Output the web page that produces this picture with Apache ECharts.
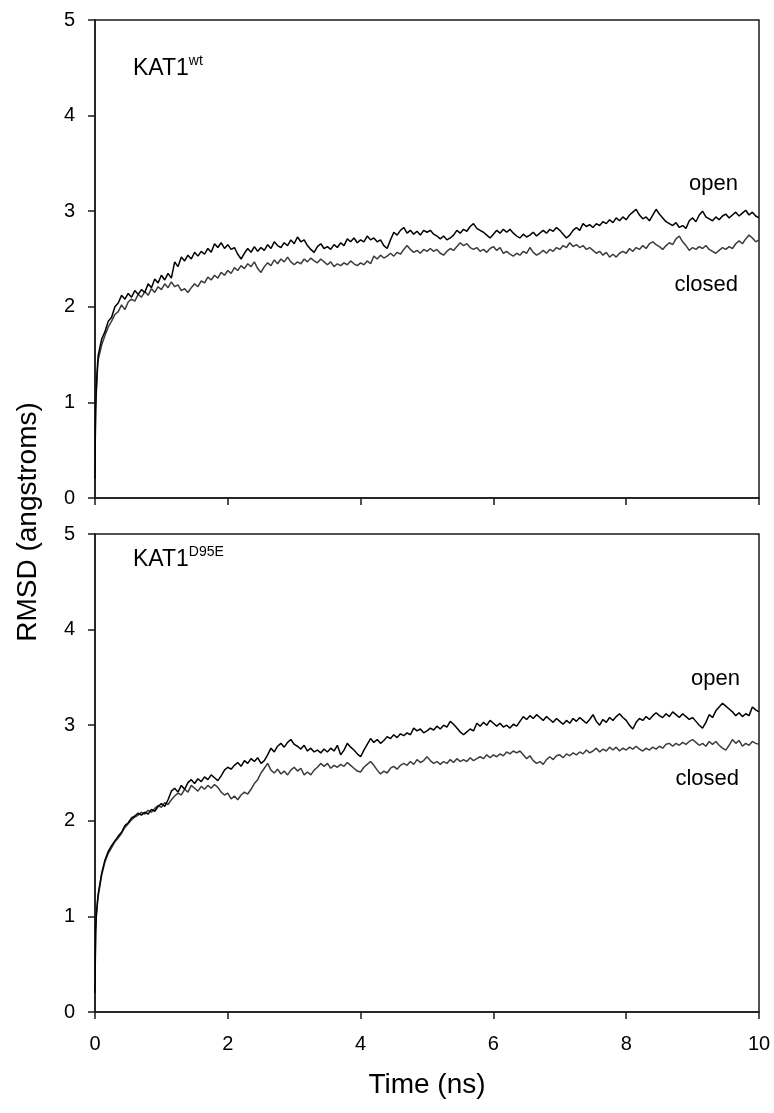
<!DOCTYPE html>
<html>
<head>
<meta charset="utf-8">
<script src="https://cdn.jsdelivr.net/npm/echarts@6/dist/echarts.min.js"></script>
<style>
html,body{margin:0;padding:0;background:#fff;}
#chart{width:774px;height:1113px;}
</style>
</head>
<body>
<div id="chart"></div>
<script>
// ---- data ----
const earlyTime = [0, 0.005, 0.01, 0.02, 0.03, 0.04];   // ns
const stepNs = 0.05;                                    // sampling after 0.04 ns
const xTicks = [0, 2, 4, 6, 8, 10];
const yTicks = [0, 1, 2, 3, 4, 5];

// KAT1 wt
const wtOpenEarly = [0.2, 0.7, 0.95, 1.15, 1.30, 1.42];
const wtOpen = [
 1.50,1.66,1.74,1.85,1.89,2.00,2.04,2.12,2.08,2.14,2.10,2.17,2.13,2.18,2.15,2.24,2.20,2.29,2.25,2.33,
 2.28,2.35,2.30,2.47,2.42,2.52,2.48,2.54,2.50,2.57,2.53,2.58,2.55,2.61,2.57,2.66,2.62,2.67,2.61,2.65,
 2.60,2.62,2.55,2.50,2.56,2.61,2.57,2.63,2.58,2.62,2.59,2.65,2.61,2.68,2.64,2.62,2.67,2.64,2.70,2.66,
 2.73,2.68,2.70,2.64,2.60,2.57,2.63,2.66,2.61,2.63,2.60,2.65,2.62,2.67,2.64,2.71,2.68,2.72,2.67,2.70,
 2.68,2.74,2.70,2.72,2.68,2.70,2.64,2.61,2.70,2.78,2.75,2.80,2.83,2.77,2.80,2.76,2.79,2.75,2.80,2.78,
 2.80,2.76,2.74,2.71,2.74,2.70,2.72,2.75,2.80,2.77,2.81,2.79,2.84,2.87,2.82,2.80,2.78,2.75,2.72,2.76,
 2.80,2.77,2.81,2.78,2.81,2.77,2.74,2.72,2.76,2.73,2.75,2.78,2.74,2.77,2.80,2.77,2.81,2.79,2.83,2.80,
 2.76,2.72,2.75,2.80,2.83,2.80,2.87,2.84,2.86,2.83,2.87,2.85,2.89,2.87,2.91,2.88,2.93,2.90,2.94,2.91,
 2.96,2.99,3.02,2.96,2.92,2.94,2.90,2.96,3.02,2.97,2.93,2.89,2.87,2.85,2.88,2.83,2.85,2.82,2.90,2.93,
 2.89,2.96,3.00,2.94,2.92,2.90,2.94,2.91,2.95,2.97,2.93,2.96,2.99,2.95,2.98,3.01,2.96,2.99,2.95,2.93
];
const wtClosedEarly = [0.2, 0.65, 0.9, 1.1, 1.25, 1.37];
const wtClosed = [
 1.45,1.60,1.70,1.79,1.85,1.92,1.95,2.02,1.97,2.05,2.08,2.06,2.13,2.10,2.16,2.12,2.19,2.15,2.21,2.18,
 2.24,2.20,2.26,2.21,2.23,2.17,2.19,2.15,2.20,2.24,2.21,2.27,2.25,2.31,2.28,2.33,2.30,2.36,2.33,2.38,
 2.35,2.41,2.38,2.43,2.40,2.45,2.42,2.47,2.40,2.36,2.42,2.46,2.43,2.49,2.45,2.50,2.47,2.52,2.47,2.44,
 2.47,2.45,2.50,2.47,2.51,2.48,2.46,2.50,2.47,2.44,2.47,2.42,2.45,2.43,2.46,2.44,2.48,2.45,2.43,2.46,
 2.44,2.48,2.45,2.53,2.50,2.54,2.51,2.53,2.56,2.53,2.57,2.55,2.60,2.64,2.60,2.57,2.59,2.56,2.60,2.58,
 2.61,2.58,2.60,2.56,2.54,2.58,2.61,2.59,2.63,2.67,2.64,2.66,2.62,2.60,2.62,2.58,2.60,2.57,2.61,2.63,
 2.59,2.62,2.56,2.58,2.55,2.53,2.56,2.54,2.58,2.56,2.62,2.57,2.54,2.56,2.59,2.56,2.60,2.58,2.62,2.60,
 2.64,2.62,2.67,2.63,2.65,2.62,2.64,2.60,2.62,2.59,2.56,2.58,2.54,2.57,2.52,2.55,2.52,2.56,2.58,2.56,
 2.61,2.58,2.62,2.60,2.64,2.61,2.66,2.68,2.65,2.63,2.60,2.64,2.67,2.65,2.71,2.74,2.68,2.64,2.59,2.62,
 2.60,2.63,2.61,2.64,2.60,2.58,2.56,2.59,2.62,2.60,2.63,2.61,2.66,2.69,2.66,2.71,2.75,2.72,2.68,2.70
];

// KAT1 D95E
const d95eOpenEarly = [0.2, 0.6, 0.85, 1.02, 1.10, 1.18];
const d95eOpen = [
 1.24,1.45,1.59,1.68,1.74,1.79,1.84,1.88,1.95,1.98,2.03,2.05,2.08,2.06,2.09,2.07,2.12,2.10,2.15,2.18,
 2.15,2.22,2.31,2.34,2.30,2.37,2.33,2.40,2.43,2.39,2.44,2.41,2.46,2.43,2.48,2.45,2.42,2.47,2.53,2.56,
 2.54,2.58,2.61,2.57,2.63,2.60,2.65,2.62,2.66,2.60,2.63,2.69,2.76,2.72,2.78,2.81,2.77,2.82,2.85,2.80,
 2.78,2.75,2.79,2.73,2.76,2.72,2.74,2.71,2.75,2.72,2.76,2.73,2.79,2.69,2.74,2.81,2.77,2.74,2.70,2.67,
 2.74,2.80,2.86,2.82,2.85,2.81,2.84,2.88,2.86,2.90,2.87,2.91,2.89,2.92,2.90,2.97,2.94,2.96,2.92,2.94,
 2.97,2.95,2.99,2.96,3.00,2.98,3.04,3.01,2.97,2.93,2.90,2.93,2.96,2.94,3.02,2.99,3.03,3.00,3.05,3.02,
 2.99,3.02,2.98,3.00,2.97,3.01,2.99,3.04,3.09,3.06,3.10,3.07,3.11,3.08,3.05,3.09,3.06,3.03,3.07,3.04,
 3.01,3.05,3.02,3.07,3.04,3.08,3.05,3.02,3.06,3.11,3.04,3.00,3.06,3.03,3.08,3.05,3.09,3.12,3.08,3.05,
 3.00,2.96,3.03,3.07,3.05,3.09,3.06,3.10,3.13,3.10,3.08,3.12,3.09,3.14,3.11,3.08,3.12,3.09,3.06,3.08,
 3.04,3.00,2.97,3.03,3.11,3.08,3.15,3.19,3.23,3.20,3.17,3.14,3.10,3.13,3.09,3.12,3.10,3.19,3.16,3.14
];
const d95eClosedEarly = [0.2, 0.55, 0.82, 1.0, 1.08, 1.16];
const d95eClosed = [
 1.22,1.43,1.57,1.66,1.72,1.78,1.82,1.87,1.93,1.97,2.01,2.04,2.06,2.09,2.07,2.11,2.09,2.13,2.16,2.14,
 2.19,2.17,2.22,2.26,2.29,2.27,2.33,2.30,2.37,2.34,2.31,2.36,2.33,2.37,2.34,2.38,2.35,2.30,2.27,2.29,
 2.23,2.26,2.22,2.27,2.30,2.28,2.33,2.39,2.43,2.50,2.55,2.60,2.53,2.50,2.54,2.49,2.52,2.48,2.53,2.56,
 2.52,2.55,2.48,2.51,2.48,2.53,2.56,2.60,2.57,2.60,2.55,2.58,2.56,2.59,2.57,2.61,2.58,2.55,2.52,2.51,
 2.56,2.59,2.62,2.58,2.53,2.49,2.52,2.50,2.55,2.57,2.54,2.58,2.60,2.58,2.62,2.59,2.64,2.61,2.63,2.67,
 2.63,2.60,2.62,2.59,2.62,2.60,2.64,2.61,2.65,2.62,2.64,2.62,2.66,2.63,2.65,2.67,2.65,2.69,2.66,2.69,
 2.67,2.70,2.68,2.72,2.70,2.73,2.71,2.73,2.69,2.65,2.68,2.63,2.60,2.62,2.59,2.64,2.67,2.64,2.68,2.69,
 2.66,2.70,2.68,2.71,2.69,2.72,2.70,2.74,2.71,2.73,2.76,2.72,2.75,2.73,2.77,2.74,2.77,2.73,2.76,2.74,
 2.77,2.75,2.78,2.75,2.73,2.76,2.74,2.77,2.75,2.78,2.76,2.80,2.81,2.78,2.81,2.79,2.82,2.80,2.83,2.85,
 2.82,2.79,2.81,2.78,2.83,2.80,2.83,2.79,2.76,2.74,2.79,2.85,2.81,2.84,2.78,2.81,2.79,2.83,2.81,2.80
];

// ---- build ----
function pairs(early, main) {
  const out = early.map((v, i) => [earlyTime[i], v]);
  main.forEach((v, i) => out.push([Math.round((i + 1) * stepNs * 100) / 100, v]));
  return out;
}

const FONT = '"Liberation Sans", Arial, sans-serif';
const AX = '#1a1a1a';

function xAxisCfg(gridIndex, showLabels) {
  return {
    type: 'value', gridIndex, min: xTicks[0], max: xTicks[xTicks.length - 1], interval: 2,
    axisLine: { show: true, onZero: false, lineStyle: { color: AX, width: 1.5 } },
    axisTick: { show: true, length: 7, lineStyle: { color: AX, width: 1.5 } },
    axisLabel: { show: showLabels, fontSize: 20, color: '#000', fontFamily: FONT, margin: 22 },
    splitLine: { show: false },
    name: showLabels ? 'Time (ns)' : '',
    nameLocation: 'middle', nameGap: 59,
    nameTextStyle: { fontSize: 28, color: '#000', fontFamily: FONT }
  };
}
function yAxisCfg(gridIndex) {
  return {
    type: 'value', gridIndex, min: yTicks[0], max: yTicks[yTicks.length - 1], interval: 1,
    axisLine: { show: true, onZero: false, lineStyle: { color: AX, width: 1.5 } },
    axisTick: { show: true, length: 7, lineStyle: { color: AX, width: 1.5 } },
    axisLabel: { fontSize: 20, color: '#000', fontFamily: FONT, margin: 20 },
    splitLine: { show: false }
  };
}
function lineSeries(name, idx, data, color) {
  return {
    name, type: 'line', xAxisIndex: idx, yAxisIndex: idx, data,
    showSymbol: false, symbol: 'none', smooth: false,
    lineStyle: { color, width: 1.5 }, z: name.indexOf('open') >= 0 ? 3 : 2
  };
}

const chart = echarts.init(document.getElementById('chart'), null, { renderer: 'canvas' });
const txt = (x, y, text, align) => ({
  type: 'text', x, y,
  style: { text, fontSize: 22, fontFamily: FONT, fill: '#000', align: align || 'left', verticalAlign: 'middle' }
});
const richLabel = (x, y, main, sup) => ({
  type: 'text', x, y,
  style: {
    text: '{a|' + main + '}{s|' + sup + '}', fontFamily: FONT, fill: '#000',
    rich: {
      a: { fontSize: 23, fontFamily: FONT, lineHeight: 26, verticalAlign: 'bottom' },
      s: { fontSize: 14, fontFamily: FONT, lineHeight: 26, verticalAlign: 'top', padding: [0, 0, 8, 0] }
    }
  }
});

chart.setOption({
  animation: false,
  backgroundColor: '#fff',
  grid: [
    { left: 95, top: 20, width: 664, height: 478, show: true, borderColor: AX, borderWidth: 1.5 },
    { left: 95, top: 534, width: 664, height: 478, show: true, borderColor: AX, borderWidth: 1.5 }
  ],
  xAxis: [xAxisCfg(0, false), xAxisCfg(1, true)],
  yAxis: [yAxisCfg(0), yAxisCfg(1)],
  series: [
    lineSeries('wt closed', 0, pairs(wtClosedEarly, wtClosed), '#3c3c3c'),
    lineSeries('wt open', 0, pairs(wtOpenEarly, wtOpen), '#000000'),
    lineSeries('D95E closed', 1, pairs(d95eClosedEarly, d95eClosed), '#3c3c3c'),
    lineSeries('D95E open', 1, pairs(d95eOpenEarly, d95eOpen), '#000000')
  ],
  graphic: [
    richLabel(133, 54, 'KAT1', 'wt'),
    richLabel(133, 545, 'KAT1', 'D95E'),
    txt(738, 184, 'open', 'right'),
    txt(738, 285, 'closed', 'right'),
    txt(740, 679, 'open', 'right'),
    txt(739, 779, 'closed', 'right'),
    {
      type: 'text', x: 28, y: 522, rotation: Math.PI / 2,
      style: { text: 'RMSD (angstroms)', fontSize: 28, fontFamily: FONT, fill: '#000', align: 'center', verticalAlign: 'middle' }
    }
  ]
});
</script>
</body>
</html>
